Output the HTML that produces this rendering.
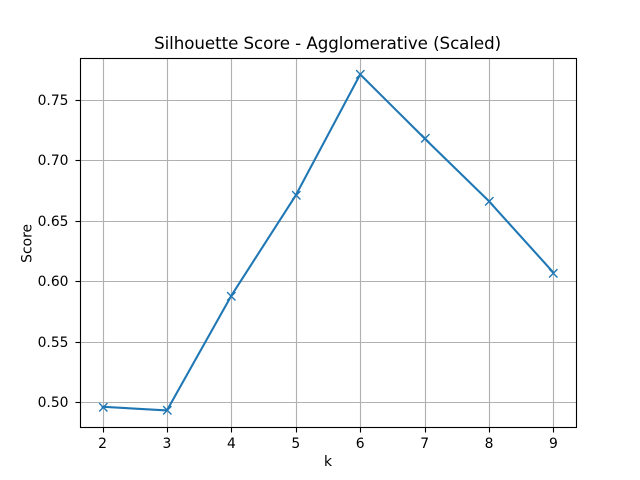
<!DOCTYPE html>
<html>
<head>
<meta charset="utf-8">
<style>
html,body{margin:0;padding:0;background:#fff;}
svg{display:block;font-family:"DejaVu Sans",sans-serif;}
</style>
</head>
<body>
<svg id="chart" width="640" height="480" viewBox="0 0 640 480" xmlns="http://www.w3.org/2000/svg">
<rect x="0" y="0" width="640" height="480" fill="#ffffff"/>
<g id="grid"></g>
<g id="series"></g>
<rect x="80.5" y="58.5" width="496" height="369" fill="none" stroke="#000" stroke-width="1.11"/>
<g id="ticks"></g>
<text x="327.6" y="49" font-size="16.67" letter-spacing="-0.05" text-anchor="middle" fill="#000">Silhouette Score - Agglomerative (Scaled)</text>
<text x="328" y="466" font-size="13.89" text-anchor="middle" fill="#000">k</text>
<text x="0" y="0" transform="translate(31.5,243.4) rotate(-90)" font-size="13.89" text-anchor="middle" fill="#000">Score</text>
</svg>
<script>
const categories = [2, 3, 4, 5, 6, 7, 8, 9];
const scores = [0.496, 0.493, 0.588, 0.671, 0.771, 0.718, 0.666, 0.607];
const xTickLabels = ["2", "3", "4", "5", "6", "7", "8", "9"];
const yTickLabels = ["0.50", "0.55", "0.60", "0.65", "0.70", "0.75"];

const NS = "http://www.w3.org/2000/svg";
const plot = {left: 80, right: 576, top: 57.6, bottom: 427.2};

const xMinData = Math.min(...categories), xMaxData = Math.max(...categories);
const yMinData = Math.min(...scores), yMaxData = Math.max(...scores);
const xPad = (xMaxData - xMinData) * 0.05, yPad = (yMaxData - yMinData) * 0.05;

function xScale(v) {
  return plot.left + (v - (xMinData - xPad)) / (xMaxData - xMinData + 2 * xPad) * (plot.right - plot.left);
}
function yScale(v) {
  return plot.bottom - (v - (yMinData - yPad)) / (yMaxData - yMinData + 2 * yPad) * (plot.bottom - plot.top);
}
function snap(p) {
  return Math.floor(p + 0.5) + 0.5;
}
function make(tag, attrs, parent) {
  const el = document.createElementNS(NS, tag);
  for (const k in attrs) el.setAttribute(k, attrs[k]);
  parent.appendChild(el);
  return el;
}

const grid = document.getElementById("grid");
const ticks = document.getElementById("ticks");
const series = document.getElementById("series");

xTickLabels.forEach(function (label) {
  const raw = xScale(Number(label));
  const x = snap(raw);
  const g = make("line", {x1: x, x2: x, y1: 58.5, y2: 427.5, stroke: "#b0b0b0", "stroke-width": 1.11}, grid);
  
  
  const t = make("line", {x1: x, x2: x, y1: 427.5, y2: 432.5, stroke: "#000", "stroke-width": 1.11}, ticks);
  
  
  const l = make("text", {x: raw, y: plot.bottom + 21, "font-size": 13.89, "text-anchor": "middle", fill: "#000"}, ticks);
  
  
  l.textContent = label;
});

yTickLabels.forEach(function (label) {
  const y = snap(yScale(Number(label)));
  const g = make("line", {x1: 80.5, x2: 576.5, y1: y, y2: y, stroke: "#b0b0b0", "stroke-width": 1.11}, grid);
  
  
  const t = make("line", {x1: 75.5, x2: 80.5, y1: y, y2: y, stroke: "#000", "stroke-width": 1.11}, ticks);
  
  
  const l = make("text", {x: plot.left - 11.5, y: y + 4.6, "font-size": 13.89, "text-anchor": "end", fill: "#000"}, ticks);
  
  
  l.textContent = label;
});

const points = categories.map(function (c, i) {
  return xScale(c) + "," + yScale(scores[i]);
}).join(" ");
const line = make("polyline", {points: points, fill: "none", stroke: "#1f77b4", "stroke-width": 2.08, "stroke-linejoin": "round", "stroke-linecap": "square"}, series);



categories.forEach(function (c, i) {
  const x = Math.floor(xScale(c) + 0.5) + 0.3, y = Math.floor(yScale(scores[i]) + 0.5) + 0.3, r = 4.17;
  const m = make("path", {
    d: "M" + (x - r) + " " + (y - r) + "L" + (x + r) + " " + (y + r) + "M" + (x - r) + " " + (y + r) + "L" + (x + r) + " " + (y - r),
    fill: "none", stroke: "#1f77b4", "stroke-width": 1.39
  }, series);
  
  
});
</script>
</body>
</html>
